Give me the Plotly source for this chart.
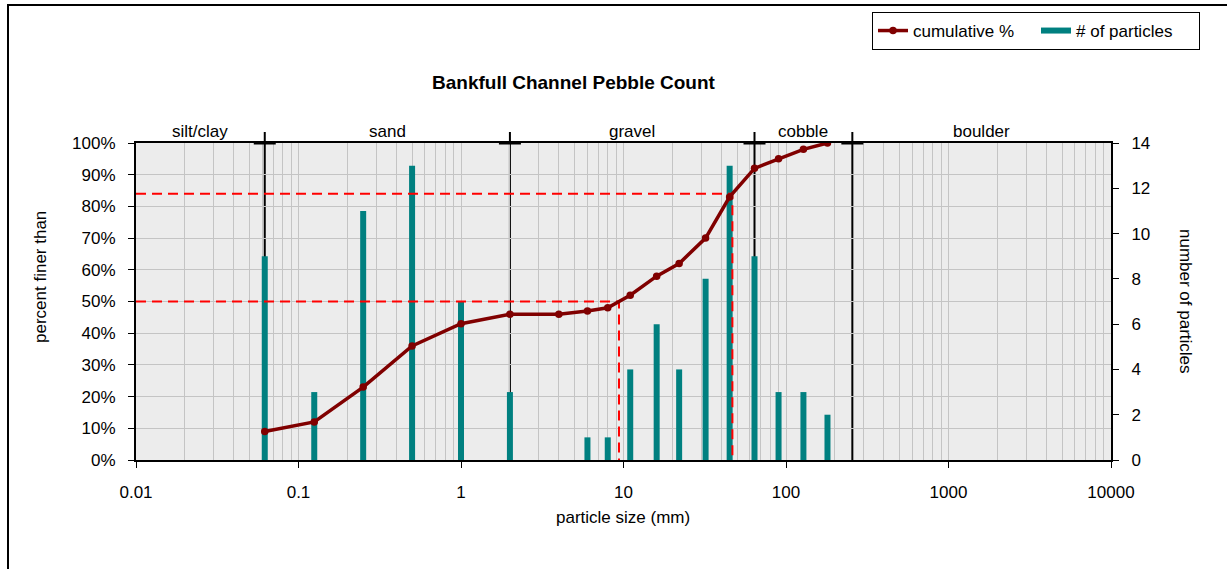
import numpy as np
import plotly.graph_objects as go

# ---------------- data ----------------
sizes_mm = [0.062, 0.125, 0.25, 0.5, 1, 2, 4, 6, 8, 11, 16, 22, 32, 45, 64, 90, 128, 180]
counts = [9, 3, 11, 13, 7, 3, 0, 1, 1, 4, 6, 4, 8, 13, 9, 3, 3, 2]
cum_pct = [9, 12, 23, 36, 43, 46, 46, 47, 48, 52, 58, 62, 70, 83, 92, 95, 98, 100]

class_names = ["silt/clay", "sand", "gravel", "cobble", "boulder"]
class_bounds = [0.01, 0.062, 2, 64, 256, 10000]

x_ticks = [0.01, 0.1, 1, 10, 100, 1000, 10000]
x_tick_labels = ["0.01", "0.1", "1", "10", "100", "1000", "10000"]
pct_ticks = list(range(0, 101, 10))
pct_labels = [f"{v}%" for v in pct_ticks]
count_ticks = list(range(0, 15, 2))
d_levels = [50, 84]

# ---------------- styling ----------------
W, H = 1227, 569
L, R, T, B = 136, 1111, 143, 460          # plot area in pixels
FONT = "Liberation Sans, Arial, sans-serif"
DARKRED = "#800000"
TEAL = "#008080"
GRID = "#C4C4C4"
CROSS_HALF = 10 ** (11 / ((R - L) / 6))   # +-11 px on the log axis


def px_x(px):
    return (px - L) / (R - L)


def px_y(py):
    return (B - py) / (B - T)


fig = go.Figure()

# bars (# of particles) drawn as thick vertical lines on the right-hand count axis
bx, by = [], []
for s, c in zip(sizes_mm, counts):
    bx += [s, s, None]
    by += [0, c, None]
fig.add_trace(go.Scatter(
    x=bx, y=by, mode="lines", name="# of particles",
    line=dict(color=TEAL, width=6), yaxis="y", legendrank=2,
    hoverinfo="skip"))

# D50 / D84 reference lines (percent axis)
log_sizes = np.log10(sizes_mm)
for p in d_levels:
    d = 10 ** np.interp(p, cum_pct, log_sizes)
    fig.add_trace(go.Scatter(
        x=[class_bounds[0], d, d], y=[p, p, 0], mode="lines",
        line=dict(color="#FF0000", width=2, dash="10px,6px"),
        showlegend=False, yaxis="y2", hoverinfo="skip"))

# cumulative %
fig.add_trace(go.Scatter(
    x=sizes_mm, y=cum_pct, mode="lines+markers", name="cumulative %",
    line=dict(color=DARKRED, width=3.5), marker=dict(color=DARKRED, size=7.5),
    yaxis="y2", legendrank=1))

# class boundaries
shapes = []
for b in class_bounds[1:-1]:
    shapes.append(dict(type="line", xref="x", yref="paper", x0=b, x1=b,
                       y0=0, y1=1, layer="between",
                       line=dict(color="black", width=2)))
    shapes.append(dict(type="line", xref="x", yref="paper", x0=b, x1=b,
                       y0=1, y1=px_y(132), layer="above",
                       line=dict(color="black", width=2)))
    shapes.append(dict(type="line", xref="x", yref="paper",
                       x0=b / CROSS_HALF, x1=b * CROSS_HALF, y0=1, y1=1, layer="above",
                       line=dict(color="black", width=3)))
# outer chart frame (left and top edges)
shapes.append(dict(type="path", xref="paper", yref="paper",
                   path=f"M {px_x(8)},{px_y(575)} L {px_x(8)},{px_y(5)} L {px_x(1235)},{px_y(5)}",
                   line=dict(color="black", width=2)))

annotations = []
for name, lo, hi in zip(class_names, class_bounds[:-1], class_bounds[1:]):
    annotations.append(dict(x=(np.log10(lo) + np.log10(hi)) / 2, xref="x",
                            y=px_y(131), yref="paper", text=name, showarrow=False,
                            font=dict(size=17, color="black", family=FONT),
                            xanchor="center", yanchor="middle"))
annotations.append(dict(x=px_x(574), y=px_y(82), xref="paper", yref="paper",
                        text="<b>Bankfull Channel Pebble Count</b>", showarrow=False,
                        font=dict(size=19, color="black", family=FONT),
                        xanchor="center", yanchor="middle"))
annotations.append(dict(x=px_x(40), y=px_y(277), xref="paper", yref="paper",
                        text="percent finer than", showarrow=False, textangle=-90,
                        font=dict(size=17, color="black", family=FONT),
                        xanchor="center", yanchor="middle"))
annotations.append(dict(x=px_x(1186), y=px_y(301), xref="paper", yref="paper",
                        text="number of particles", showarrow=False, textangle=90,
                        font=dict(size=17, color="black", family=FONT),
                        xanchor="center", yanchor="middle"))
annotations.append(dict(x=px_x(623), y=px_y(517), xref="paper", yref="paper",
                        text="particle size (mm)", showarrow=False,
                        font=dict(size=17, color="black", family=FONT),
                        xanchor="center", yanchor="middle"))

minor_vals = [k * 10 ** e for e in range(-2, 4) for k in range(2, 10)]
axis_font = dict(size=17, family=FONT, color="black")

fig.update_layout(
    width=W, height=H, autosize=False,
    margin=dict(l=L, r=W - R, t=T, b=H - B, pad=0),
    paper_bgcolor="white", plot_bgcolor="#ECECEC",
    font=dict(family=FONT, size=17, color="black"),
    showlegend=True,
    legend=dict(orientation="h", x=px_x(872), y=px_y(12), xanchor="left", yanchor="top",
                bgcolor="white", bordercolor="black", borderwidth=1,
                font=axis_font, tracegroupgap=0, entrywidth=118, entrywidthmode="pixels"),
    xaxis=dict(type="log", range=[np.log10(class_bounds[0]), np.log10(class_bounds[-1])],
               tickvals=x_ticks, ticktext=x_tick_labels,
               showgrid=True, gridcolor=GRID, gridwidth=1,
               minor=dict(tickvals=minor_vals, showgrid=True, gridcolor=GRID, gridwidth=1, ticks=""),
               showline=True, linecolor="black", linewidth=2, mirror=True,
               ticks="outside", ticklen=6, tickcolor="black", tickwidth=1,
               ticklabelstandoff=10, zeroline=False, tickfont=axis_font),
    # count axis (right) is the base axis so its bars sit underneath
    yaxis=dict(range=[0, 14], tickvals=count_ticks, side="right",
               showgrid=False, showline=True, linecolor="black", linewidth=2,
               ticks="outside", ticklen=6, tickcolor="black", tickwidth=1,
               ticklabelstandoff=9, zeroline=False, tickfont=axis_font),
    # percent axis (left), overlaid so its line sits on top
    yaxis2=dict(range=[0, 100], tickvals=pct_ticks, ticktext=pct_labels,
                overlaying="y", side="left",
                showgrid=True, gridcolor=GRID, gridwidth=1,
                showline=True, linecolor="black", linewidth=2,
                ticks="outside", ticklen=6, tickcolor="black", tickwidth=1,
                ticklabelstandoff=9, zeroline=False, tickfont=axis_font),
    shapes=shapes,
    annotations=annotations,
)

fig.write_html("out.html")
